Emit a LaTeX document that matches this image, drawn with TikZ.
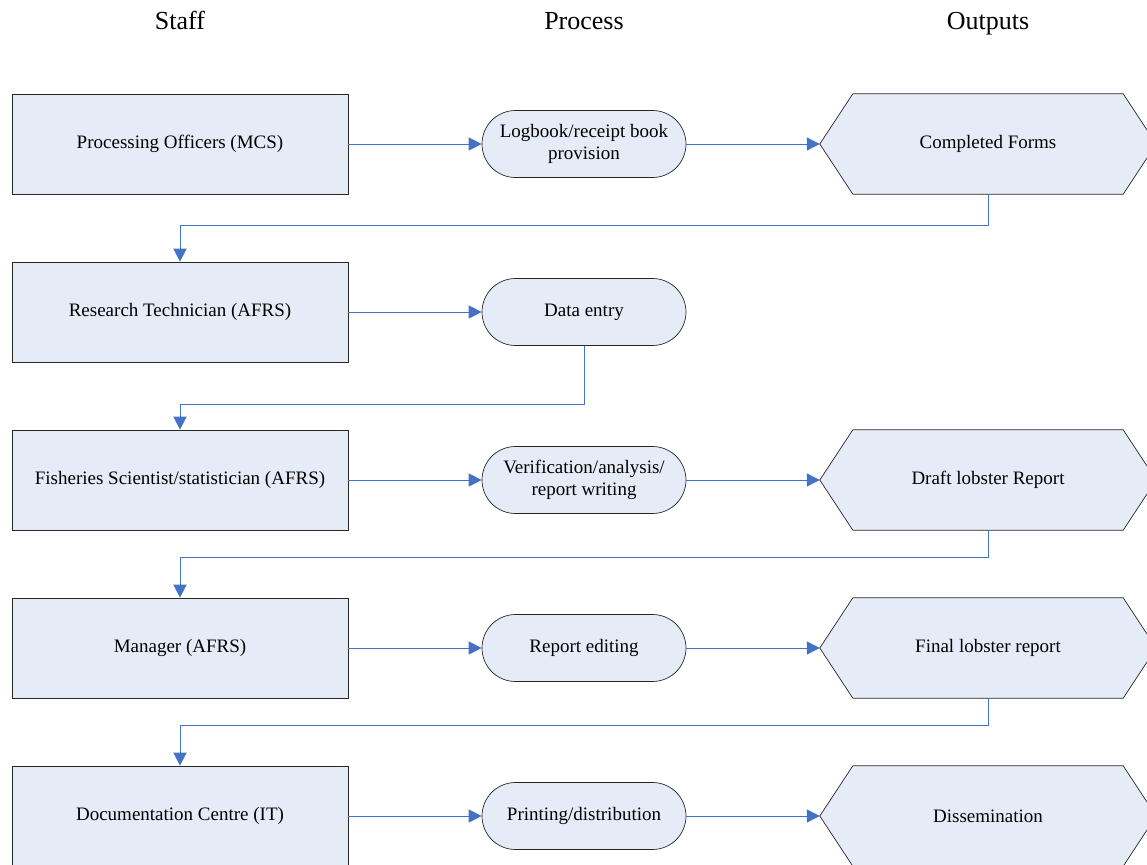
\documentclass[tikz,border=0pt]{standalone}
\usepackage{fontspec}
\setmainfont{Liberation Serif}
\usetikzlibrary{arrows.meta,shapes.misc,backgrounds,calc}
\definecolor{boxfill}{RGB}{230,236,247}
\definecolor{linkblue}{RGB}{68,114,196}
\begin{document}
\begin{tikzpicture}[x=1pt,y=-1pt,
  staffbox/.style={draw=black!85,line width=0.7pt,fill=boxfill,minimum width=336pt,minimum height=100pt,inner sep=0pt,font=\fontsize{19}{22}\selectfont},
  procbox/.style={draw=black!85,line width=0.7pt,fill=boxfill,rounded rectangle,minimum width=204pt,minimum height=67pt,inner sep=0pt,align=center,font=\fontsize{19}{22}\selectfont},
  outbox/.style={minimum width=270pt,minimum height=100pt,inner sep=0pt,font=\fontsize{19}{22}\selectfont},
  hexline/.style={draw=black!85,line width=0.7pt,fill=boxfill},
  link/.style={draw=linkblue,line width=1pt,-{Triangle[length=13pt,width=13pt]}},
  head/.style={font=\fontsize{26}{30}\selectfont,anchor=base}
]
\useasboundingbox (0,0) rectangle (1147,864);

\node[head] (hs) at (180,30) {Staff};
\node[head] (hp) at (584,30) {Process};
\node[head] (ho) at (988,30) {Outputs};

% staff
\node[staffbox] (s1) at (180,144) {Processing Officers (MCS)};
\node[staffbox] (s2) at (180,312) {Research Technician (AFRS)};
\node[staffbox] (s3) at (180,480) {Fisheries Scientist/statistician (AFRS)};
\node[staffbox] (s4) at (180,648) {Manager (AFRS)};
\node[staffbox] (s5) at (180,816) {Documentation Centre (IT)};

% process
\node[procbox] (p1) at (584,144) {Logbook/receipt book\\provision};
\node[procbox] (p2) at (584,312) {Data entry};
\node[procbox] (p3) at (584,480) {Verification/analysis/\\report writing};
\node[procbox] (p4) at (584,648) {Report editing};
\node[procbox] (p5) at (584,816) {Printing/distribution};

% outputs
\node[outbox] (o1) at (988,144) {Completed Forms};
\node[outbox] (o3) at (988,480) {Draft lobster Report};
\node[outbox] (o4) at (988,648) {Final lobster report};
\node[outbox] (o5) at (988,816) {Dissemination};

\begin{scope}[on background layer]
\fill[white] (0,0) rectangle (1147,864);
\foreach \o in {o1,o3,o4,o5}{
  \path[hexline] (\o.north west) -- (\o.north east) -- ($(\o.east)+(33,0)$) -- (\o.south east) -- (\o.south west) -- ($(\o.west)+(-33,0)$) -- cycle;
}
\end{scope}
\foreach \o in {o1,o3,o4,o5}{
  \coordinate (\o tip) at ($(\o.west)+(-33,0)$);
}

% horizontal links
\draw[link] (s1.east) -- (p1.west);
\draw[link] (s2.east) -- (p2.west);
\draw[link] (s3.east) -- (p3.west);
\draw[link] (s4.east) -- (p4.west);
\draw[link] (s5.east) -- (p5.west);
\draw[link] (p1.east) -- (o1tip);
\draw[link] (p3.east) -- (o3tip);
\draw[link] (p4.east) -- (o4tip);
\draw[link] (p5.east) -- (o5tip);

% return links
\draw[link] (o1.south) -- ++(0,31) -| (s2.north);
\draw[link] (p2.south) -- ++(0,59) -| (s3.north);
\draw[link] (o3.south) -- ++(0,27) -| (s4.north);
\draw[link] (o4.south) -- ++(0,27) -| (s5.north);
\end{tikzpicture}
\end{document}
